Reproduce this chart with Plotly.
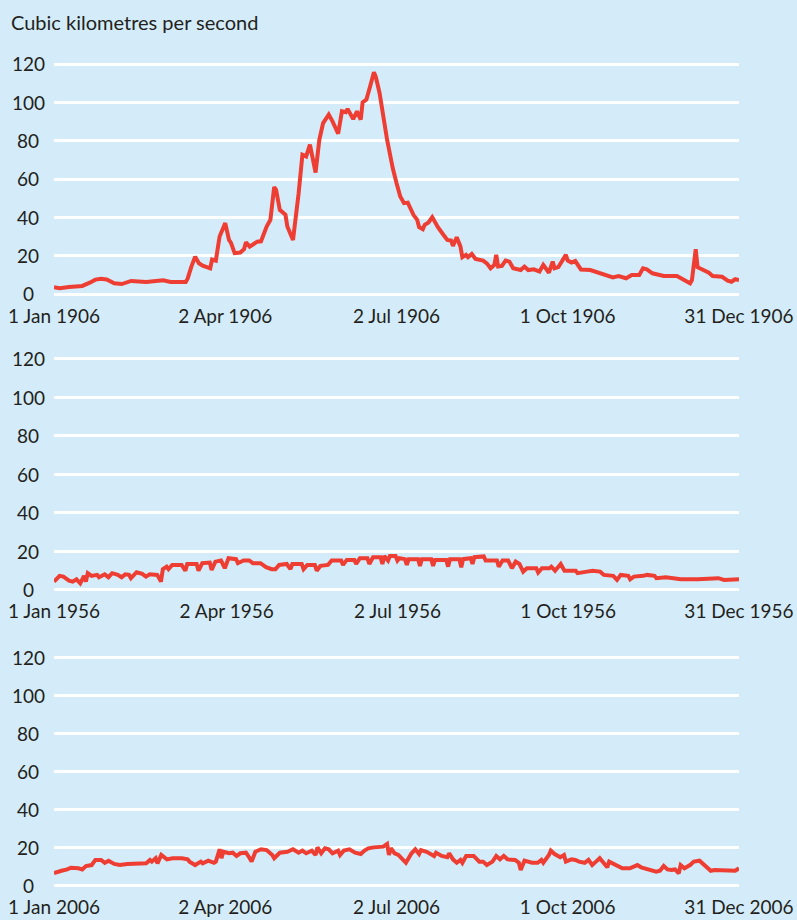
import pandas as pd
import plotly.graph_objects as go

# Daily river flow, cubic kilometres per second, sampled at turning points.
# Day offsets are counted from 1 January of each year.
days_1906 = [0, 3, 8, 15, 19, 22, 25, 28, 32, 36, 41, 49, 58, 62, 70, 71, 73, 75, 77, 79,
             83, 84, 86, 88, 91, 93, 94, 96, 99, 101, 102, 104, 108, 110, 113, 115, 117, 118,
             120, 123, 124, 127, 130, 132, 134, 136, 139, 141, 143, 146, 148, 150, 151, 153,
             155, 156, 159, 161, 163, 164, 166, 168, 170, 171, 173, 177, 178, 180, 182, 184,
             186, 188, 191, 193, 194, 196, 197, 199, 201, 202, 204, 207, 209, 211, 212, 214,
             216, 217, 219, 220, 222, 224, 226, 228, 230, 232, 234, 235, 236, 238, 240, 242,
             244, 247, 248, 250, 252, 255, 258, 260, 263, 265, 266, 268, 270, 272, 273, 275,
             277, 280, 285, 290, 297, 300, 304, 307, 311, 313, 315, 318, 324, 331, 334, 338,
             339, 341, 342, 345, 348, 350, 355, 358, 360, 362, 364]
flow_1906 = [3.5, 3.0, 3.6, 4.2, 5.9, 7.5, 8.0, 7.6, 5.6, 5.2, 6.8, 6.3, 7.2, 6.3, 6.3, 8.0,
             14.3, 19.5, 16.0, 14.8, 13.4, 18.0, 17.4, 30.0, 37.0, 28.2, 26.8, 21.3, 21.6, 23.4,
             27.0, 24.7, 27.3, 27.5, 35.2, 38.7, 55.8, 54.4, 43.9, 41.3, 35.2, 28.2, 52.6, 72.7,
             71.8, 77.9, 63.4, 80.5, 89.2, 93.6, 90.1, 84.8, 83.6, 95.3, 94.8, 96.5, 91.3, 95.3,
             91.0, 100.0, 101.4, 108.4, 115.7, 113.3, 104.9, 80.5, 75.3, 65.7, 57.9, 50.9, 47.4,
             47.7, 41.3, 38.7, 34.9, 33.8, 36.1, 37.3, 40.1, 38.3, 34.9, 30.8, 28.2, 27.9, 25.1,
             29.6, 24.7, 19.2, 20.4, 19.2, 20.9, 18.3, 17.8, 17.4, 16.0, 13.4, 15.2, 20.4, 14.3,
             14.6, 17.4, 16.9, 13.4, 12.9, 12.5, 14.3, 12.5, 12.9, 11.7, 15.2, 11.1, 16.9, 13.4,
             14.0, 16.9, 20.4, 17.4, 16.4, 17.2, 12.8, 12.5, 10.8, 8.7, 9.4, 8.2, 9.9, 9.9, 13.4,
             12.9, 10.8, 9.4, 9.4, 7.7, 5.6, 7.3, 23.4, 14.0, 12.5, 11.1, 9.4, 9.0, 7.0, 6.4,
             7.7, 7.3]

days_1956 = [0, 3, 5, 8, 10, 12, 14, 16, 17, 18, 20, 23, 24, 27, 29, 31, 34, 36, 38, 40, 41,
             44, 47, 49, 51, 55, 57, 58, 60, 61, 63, 68, 70, 71, 76, 77, 79, 83, 84, 86, 89, 91,
             93, 97, 98, 101, 104, 106, 110, 113, 116, 118, 120, 124, 126, 127, 132, 133, 135,
             139, 140, 142, 146, 148, 153, 154, 156, 160, 161, 163, 167, 168, 170, 174, 175, 176,
             178, 179, 182, 183, 184, 187, 188, 189, 194, 195, 196, 201, 202, 203, 209, 210, 211,
             216, 217, 218, 222, 223, 224, 229, 230, 236, 237, 239, 242, 244, 246, 248, 250, 252,
             257, 258, 260, 264, 265, 267, 270, 272, 278, 279, 284, 287, 291, 293, 298, 300, 302,
             306, 307, 309, 314, 316, 320, 321, 326, 334, 343, 349, 354, 357, 361, 365]
flow_1956 = [4.1, 7.1, 6.7, 4.6, 4.1, 5.3, 3.2, 7.1, 4.1, 8.5, 7.1, 7.6, 6.4, 7.9, 6.4, 8.5,
             7.6, 6.4, 7.9, 7.6, 5.9, 9.0, 8.1, 6.7, 7.9, 7.6, 4.1, 10.6, 11.9, 10.6, 12.8, 12.8,
             9.8, 13.3, 13.3, 9.8, 13.7, 14.0, 10.2, 14.5, 15.1, 11.1, 16.3, 15.8, 13.7, 15.1,
             15.1, 13.7, 13.7, 11.6, 10.6, 10.6, 12.8, 13.3, 10.6, 13.3, 13.3, 10.6, 12.8, 12.8,
             9.8, 12.3, 12.8, 15.1, 15.1, 12.8, 15.4, 15.4, 13.3, 16.3, 16.3, 13.3, 16.8, 16.8,
             13.3, 17.5, 15.1, 17.5, 17.5, 15.1, 16.3, 15.8, 12.8, 15.8, 15.8, 12.3, 15.8, 15.8,
             12.3, 15.4, 15.4, 11.9, 15.8, 15.8, 11.6, 15.8, 16.3, 13.3, 16.8, 17.2, 15.1, 15.1,
             11.9, 15.1, 15.1, 11.1, 14.5, 13.3, 9.3, 11.1, 11.1, 8.8, 11.1, 11.1, 11.9, 9.8,
             13.3, 9.8, 9.8, 8.5, 9.3, 9.8, 9.3, 7.6, 7.1, 5.0, 7.6, 7.1, 5.3, 6.7, 7.1, 7.6,
             7.1, 5.9, 6.4, 5.3, 5.3, 5.9, 5.9, 5.0, 5.3, 5.3]

days_2006 = [0, 2, 4, 7, 9, 13, 15, 17, 20, 22, 25, 27, 29, 32, 35, 39, 42, 46, 49, 51, 52,
             54, 55, 57, 60, 63, 68, 71, 72, 75, 78, 79, 82, 85, 86, 88, 89, 90, 93, 95, 97, 99,
             102, 104, 105, 107, 110, 113, 116, 117, 120, 124, 127, 130, 132, 134, 137, 139, 140,
             142, 144, 146, 148, 151, 152, 154, 157, 160, 163, 165, 167, 170, 173, 175, 177, 178,
             179, 181, 183, 184, 187, 190, 192, 194, 195, 198, 202, 203, 206, 209, 210, 212, 214,
             216, 217, 219, 223, 226, 228, 230, 233, 235, 237, 239, 241, 245, 247, 248, 250, 254,
             257, 259, 260, 263, 264, 266, 269, 271, 272, 275, 277, 279, 282, 284, 286, 288, 290,
             292, 294, 295, 297, 300, 302, 306, 310, 312, 316, 320, 322, 324, 326, 328, 330, 332,
             333, 335, 338, 340, 343, 346, 349, 351, 357, 362, 364]
flow_2006 = [6.2, 7.0, 7.5, 8.2, 9.1, 8.8, 8.2, 10.0, 10.5, 13.2, 13.2, 11.7, 12.8, 11.1, 10.5,
             11.1, 11.1, 11.1, 11.4, 13.2, 12.3, 14.1, 11.4, 15.8, 13.5, 14.1, 14.1, 13.5, 12.3,
             10.5, 12.3, 11.4, 12.8, 11.7, 12.3, 18.8, 14.1, 17.5, 16.7, 17.0, 15.3, 16.7, 17.0,
             14.1, 12.3, 17.5, 18.8, 18.4, 15.8, 14.1, 17.0, 17.5, 18.8, 17.0, 18.1, 16.7, 18.1,
             15.8, 19.8, 16.7, 19.3, 18.8, 16.7, 18.1, 15.8, 18.1, 18.8, 17.0, 16.3, 18.1, 19.3,
             19.8, 20.2, 20.2, 21.6, 15.8, 19.3, 16.7, 15.8, 14.9, 11.7, 16.7, 18.8, 16.3, 18.4,
             17.5, 15.3, 17.0, 15.3, 14.6, 16.7, 13.5, 11.7, 13.2, 11.7, 15.3, 15.3, 12.3, 12.3,
             10.5, 12.3, 15.3, 13.5, 15.3, 13.5, 13.2, 11.7, 7.9, 12.8, 11.7, 11.7, 13.2, 11.7,
             15.8, 18.1, 16.3, 14.6, 15.8, 12.3, 13.5, 13.2, 12.3, 11.7, 13.2, 10.5, 12.3, 14.1,
             11.7, 9.3, 12.3, 11.4, 10.0, 8.8, 8.8, 10.5, 9.3, 8.2, 7.0, 7.5, 10.0, 8.2, 7.9, 8.2,
             6.2, 10.5, 8.8, 10.5, 12.3, 12.8, 10.0, 7.5, 7.9, 7.9, 7.5, 8.8]

years = [1906, 1956, 2006]
series_days = [days_1906, days_1956, days_2006]
series_flow = [flow_1906, flow_1956, flow_2006]

y_ticks = [0, 20, 40, 60, 80, 100, 120]
tick_month_day = [(1, 1), (4, 2), (7, 2), (10, 1), (12, 31)]

axis_title = "Cubic kilometres per second"

# --- styling -------------------------------------------------------------
W, H = 797, 920
LEFT, RIGHT = 54, 58
BG = "#d4ecf9"
LINE = "#ee3e33"
TEXT = "#231f20"
FONT = "Lato"
TICK_SIZE = 19
TITLE_SIZE = 20
Y_RANGE = (-3, 123)

# pixel rows of the 0 and 120 gridlines for each panel
panel_rows = [(294, 64), (589.5, 359), (885, 657)]


def domain_for(zero_px, top_px):
    per_unit = (zero_px - top_px) / 120.0
    bottom = zero_px + (0 - Y_RANGE[0]) * per_unit
    top = zero_px - (Y_RANGE[1]) * per_unit
    return [1 - bottom / H, 1 - top / H]


plot_w = W - LEFT - RIGHT


def px_to_paper_x(px):
    return (px - LEFT) / plot_w


fig = go.Figure()
annotations = []

for i, (year, d, v) in enumerate(zip(years, series_days, series_flow)):
    start = pd.Timestamp(year=year, month=1, day=1)
    dates = start + pd.to_timedelta(d, unit="D")
    suffix = "" if i == 0 else str(i + 1)
    fig.add_trace(go.Scatter(
        x=dates, y=v, mode="lines",
        line=dict(color=LINE, width=4, shape="linear"),
        xaxis="x" + suffix, yaxis="y" + suffix,
        hoverinfo="x+y", showlegend=False,
    ))

    tick_dates = [pd.Timestamp(year=year, month=m, day=dd) for m, dd in tick_month_day]
    tick_text = [f"{t.day} {t.strftime('%b')} {t.year}" for t in tick_dates]
    dom = domain_for(*panel_rows[i])

    fig.update_layout({
        "xaxis" + suffix: dict(
            domain=[0, 1], anchor="y" + suffix,
            range=[tick_dates[0], tick_dates[-1]],
            tickvals=tick_dates, ticktext=tick_text,
            showgrid=False, zeroline=False, showline=False, ticks="",
            tickfont=dict(family=FONT, size=TICK_SIZE, color=TEXT),
            ticklabelstandoff=3, automargin=False, fixedrange=True,
        ),
        "yaxis" + suffix: dict(
            domain=dom, anchor="x" + suffix, range=list(Y_RANGE),
            tickvals=y_ticks, showticklabels=False,
            showgrid=True, gridcolor="white", gridwidth=3,
            zeroline=False, showline=False, ticks="",
            automargin=False, fixedrange=True,
        ),
    })

    for yt in y_ticks:
        annotations.append(dict(
            x=px_to_paper_x(28), xref="paper", y=yt, yref="y" + suffix,
            text=str(yt), showarrow=False, xanchor="center", yanchor="middle",
            font=dict(family=FONT, size=TICK_SIZE, color=TEXT),
        ))

annotations.append(dict(
    x=px_to_paper_x(9), xref="paper", y=1 - 22 / H, yref="paper",
    text=axis_title, showarrow=False, xanchor="left", yanchor="middle",
    font=dict(family=FONT, size=TITLE_SIZE, color=TEXT),
))

fig.update_layout(
    width=W, height=H,
    margin=dict(l=LEFT, r=RIGHT, t=0, b=0),
    paper_bgcolor=BG, plot_bgcolor=BG,
    annotations=annotations,
    showlegend=False,
)

fig.write_html("out.html", config={"displayModeBar": False})
